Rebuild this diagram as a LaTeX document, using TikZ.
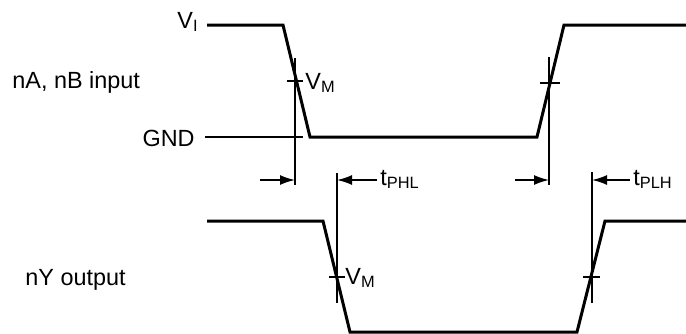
\documentclass[tikz,border=0pt]{standalone}
\usepackage{fontspec}
\setmainfont{Liberation Sans}
\usetikzlibrary{positioning}
\usetikzlibrary{arrows.meta}

\begin{document}
\begin{tikzpicture}[x=0.5pt, y=-0.5pt, every node/.style={inner sep=0pt, font=\fontsize{11.7}{14}\selectfont}, wave/.style={line width=1.5pt, line join=miter}, guide/.style={line width=0.8pt}, delay/.style={line width=0.8pt, -{Latex[length=7.5pt,width=5pt]}}]
\useasboundingbox (0,0) rectangle (686,333);

% Labels
\node[anchor=base east] (vi) at (199,28) {V\textsubscript{I}};
\node[anchor=base west] (inlabel) at (12,88) {nA, nB input};
\node[anchor=base east] (gnd) at (195,146) {GND};
\node[anchor=base west] (vmin) at (305,89) {V\textsubscript{M}};
\node[anchor=base west] (outlabel) at (25,285) {nY output};
\node[anchor=base west] (vmout) at (345,284) {V\textsubscript{M}};
\node[anchor=base west] (tphl) at (380,185) {t\textsubscript{PHL}};
\node[anchor=base west] (tplh) at (633,185) {t\textsubscript{PLH}};

% Waveforms
\draw[wave] (207,25) -- (283,25) -- (310,137) -- (537,137) -- (564,25) -- (686,25);
\coordinate (gndstart) at (205,137);
\coordinate (gndend) at (303,137);
\draw[guide] (gndstart) -- (gndend);
\draw[wave] (207,221) -- (323,221) -- (350,332) -- (577,332) -- (605,221) -- (686,221);

% Guides and ticks
\coordinate (fallin) at (295,180);
\coordinate (risein) at (549,180);
\coordinate (fallout) at (337,180);
\coordinate (riseout) at (592,180);
\draw[guide] (295,58) -- (295,185);
\draw[guide] (549,57) -- (549,185);
\draw[guide] (337,173) -- (337,303);
\draw[guide] (592,172) -- (592,303);
\draw[guide] (287,81) -- (303,81);
\draw[guide] (540,83) -- (560,83);
\draw[guide] (329,277) -- (345,277);
\draw[guide] (583,277) -- (600,277);

% Arrows
\coordinate (phlstart) at (377,180);
\coordinate (plhstart) at (630,180);
\draw[delay] (260,180) -- (fallin);
\draw[delay] (phlstart) -- (fallout);
\draw[delay] (515,180) -- (risein);
\draw[delay] (plhstart) -- (riseout);

\end{tikzpicture}
\end{document}
